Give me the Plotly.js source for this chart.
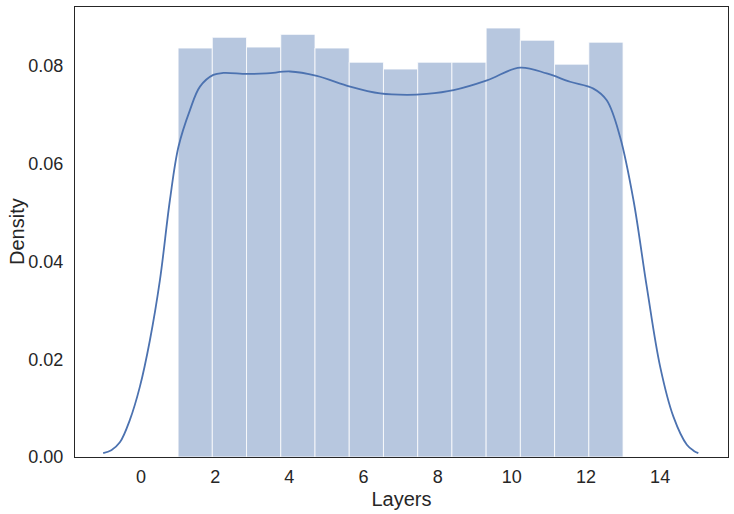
<!DOCTYPE html>
<html>
<head>
<meta charset="utf-8">
<script src="https://cdn.plot.ly/plotly-3.0.1.min.js"></script>
<style>html,body{margin:0;padding:0;background:#fff;}#chart{width:734px;height:514px;}</style>
</head>
<body>
<div id="chart"></div>
<script>
// Histogram: 13 bins spanning layers 1..13
const binStart = 1;
const binEnd = 13;
const binDensity = [0.0837, 0.0859, 0.0839, 0.0865, 0.0837, 0.0808, 0.0794, 0.0808, 0.0808, 0.0878, 0.0853, 0.0804, 0.0849];

// KDE curve points
const kdeX = [-1.02, -0.80, -0.57, -0.30, -0.03, 0.24, 0.51, 0.78, 1.01, 1.32, 1.59, 1.95, 2.22, 2.85, 3.39, 4.02, 4.74, 5.64, 6.45, 7.17, 7.7, 8.43, 9.33, 10.22, 10.94, 11.57, 12.2, 12.56, 12.92, 13.28, 13.64, 14.0, 14.36, 14.72, 14.90, 15.03];
const kdeY = [0.0008, 0.0014, 0.0030, 0.0076, 0.0144, 0.0239, 0.0362, 0.0526, 0.0635, 0.0710, 0.0758, 0.0782, 0.0786, 0.0784, 0.0785, 0.0789, 0.0780, 0.0758, 0.0744, 0.0741, 0.0743, 0.0751, 0.0771, 0.0797, 0.0785, 0.0768, 0.0754, 0.0730, 0.0655, 0.0526, 0.0348, 0.0185, 0.0082, 0.0025, 0.0013, 0.0008];

const xTicks = [0, 2, 4, 6, 8, 10, 12, 14];
const yTicks = [0, 0.02, 0.04, 0.06, 0.08];
const xTitle = 'Layers';
const yTitle = 'Density';

const binWidth = (binEnd - binStart) / binDensity.length;
const binCenters = binDensity.map((_, i) => binStart + (i + 0.5) * binWidth);

const textColor = '#262626';
const fam = 'Liberation Sans, Arial, sans-serif';

const traces = [
  {
    type: 'bar',
    x: binCenters,
    y: binDensity,
    width: binWidth,
    marker: {color: 'rgba(76,114,176,0.4)', line: {color: 'rgba(255,255,255,0.8)', width: 1}},
    showlegend: false
  },
  {
    type: 'scatter',
    mode: 'lines',
    x: kdeX,
    y: kdeY,
    line: {color: '#4c72b0', width: 1.8, shape: 'spline', smoothing: 1},
    showlegend: false
  }
];

const layout = {
  width: 734,
  height: 514,
  margin: {l: 75, r: 6, t: 7, b: 57},
  paper_bgcolor: '#fff',
  plot_bgcolor: '#fff',
  bargap: 0,
  font: {family: fam, color: textColor},
  xaxis: {
    range: [-1.78, 15.83],
    tickvals: xTicks,
    ticktext: xTicks.map(String),
    tickfont: {size: 18, family: fam, color: textColor},
    ticklabelstandoff: 3,
    automargin: true,
    title: {text: xTitle, font: {size: 20, family: fam, color: textColor}, standoff: 6},
    showgrid: false,
    zeroline: false,
    showline: true,
    linecolor: textColor,
    linewidth: 1.2,
    mirror: true,
    ticks: ''
  },
  yaxis: {
    range: [0, 0.0921],
    tickvals: yTicks,
    ticktext: yTicks.map(v => v.toFixed(2)),
    tickfont: {size: 18, family: fam, color: textColor},
    ticklabelstandoff: 7,
    showgrid: false,
    zeroline: false,
    showline: true,
    linecolor: textColor,
    linewidth: 1.2,
    mirror: true,
    ticks: ''
  },
  annotations: [{
    text: yTitle,
    xref: 'paper', yref: 'paper',
    x: 0, y: 0.5,
    xanchor: 'center', yanchor: 'middle',
    xshift: -58,
    textangle: -90,
    showarrow: false,
    font: {size: 20, family: fam, color: textColor}
  }]
};

Plotly.newPlot('chart', traces, layout, {displayModeBar: false, staticPlot: true});
</script>
</body>
</html>
